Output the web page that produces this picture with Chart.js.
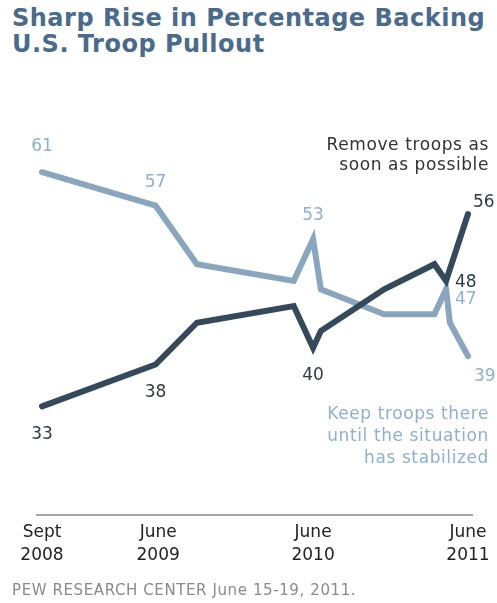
<!DOCTYPE html>
<html>
<head>
<meta charset="utf-8">
<script src="https://cdn.jsdelivr.net/npm/chart.js@4/dist/chart.umd.min.js"></script>
<style>
    body { margin: 0; width: 497px; height: 603px; background: #fff; position: relative; overflow: hidden;
           font-family: "DejaVu Sans", Verdana, sans-serif; }
    #title { position: absolute; left: 12px; top: 6px; font-size: 24px; font-weight: bold; color: #4a6b8c;
             line-height: 25.5px; letter-spacing: 0.5px; white-space: nowrap; }
    #wrap { position: absolute; left: 0; top: 0; width: 497px; height: 603px; }
    .note { position: absolute; right: 8px; text-align: right; font-size: 17px; letter-spacing: 0.6px; white-space: nowrap; }
    #removeNote { top: 134px; line-height: 20px; color: #333; }
    #keepNote { top: 402px; line-height: 22px; color: #8fb0cf; }
    #source { position: absolute; left: 12px; top: 582px; font-size: 15px; line-height: 17px; color: #8a8a8a;
              letter-spacing: 0.6px; white-space: nowrap; }
</style>
</head>
<body>
<div id="title">Sharp Rise in Percentage Backing<br>U.S. Troop Pullout</div>
<div id="wrap"><canvas id="troopChart" width="497" height="603"></canvas></div>
<div class="note" id="removeNote">Remove troops as<br>soon as possible</div>
<div class="note" id="keepNote">Keep troops there<br>until the situation<br>has stabilized</div>
<div id="source">PEW RESEARCH CENTER June 15-19, 2011.</div>

<script>
// Monate seit Sept 2008
const keepMonths = [0, 8.8, 12, 19.5, 21, 21.6, 26.5, 30.4, 31.3, 31.6, 33];
const keepValues = [61, 57, 50, 48, 53, 47, 44, 44, 47, 43, 39];
const removeMonths = [0, 8.8, 12, 19.5, 21, 21.6, 26.5, 30.4, 31.3, 33];
const removeValues = [33, 38, 43, 45, 40, 42, 47, 50, 48, 56];
const tickMonths = [0, 9, 21, 33];
const tickLabels = [['Sept', '2008'], ['June', '2009'], ['June', '2010'], ['June', '2011']];

const darkColor = '#34495c';
const lightColor = '#8aa6bf';

// Welche Punkte beschriftet werden und wohin der Text kommt
const labelSpots = {
    remove: [
        { i: 0, dx: 0, dy: 28, align: 'center' },
        { i: 1, dx: 0, dy: 28, align: 'center' },
        { i: 4, dx: 0, dy: 28, align: 'center' },
        { i: 8, dx: 9, dy: 2, align: 'left' },
        { i: 9, dx: 5, dy: -11, align: 'left' }
    ],
    keep: [
        { i: 0, dx: 0, dy: -26, align: 'center' },
        { i: 1, dx: 0, dy: -23, align: 'center' },
        { i: 4, dx: 0, dy: -24, align: 'center' },
        { i: 8, dx: 9, dy: 10, align: 'left' },
        { i: 10, dx: 6, dy: 20, align: 'left' }
    ]
};

const pointLabels = {
    id: 'pointLabels',
    afterDatasetsDraw(chart) {
        const ctx = chart.ctx;
        ctx.save();
        ctx.font = '17px "DejaVu Sans", Verdana, sans-serif';
        ctx.textBaseline = 'middle';
        chart.data.datasets.forEach((ds, d) => {
            const meta = chart.getDatasetMeta(d);
            ctx.fillStyle = ds.labelColor;
            labelSpots[ds.key].forEach(s => {
                const pt = meta.data[s.i];
                ctx.textAlign = s.align;
                ctx.fillText(String(ds.data[s.i].y), pt.x + s.dx, pt.y + s.dy);
            });
        });
        ctx.restore();
    }
};

const troopChart = new Chart(document.getElementById('troopChart'), {
    type: 'line',
    data: {
        datasets: [
            {
                key: 'remove',
                label: 'Remove troops as soon as possible',
                data: removeMonths.map((m, i) => ({ x: m, y: removeValues[i] })),
                borderColor: darkColor,
                labelColor: '#2d3b47',
                borderWidth: 6,
                pointRadius: 0,
                borderCapStyle: 'round',
                borderJoinStyle: 'miter',
                tension: 0
            },
            {
                key: 'keep',
                label: 'Keep troops there until the situation has stabilized',
                data: keepMonths.map((m, i) => ({ x: m, y: keepValues[i] })),
                borderColor: lightColor,
                labelColor: '#8fb0cf',
                borderWidth: 6,
                pointRadius: 0,
                borderCapStyle: 'round',
                borderJoinStyle: 'miter',
                tension: 0
            }
        ]
    },
    options: {
        responsive: false,
        animation: false,
        layout: { padding: { left: 37, right: 25, top: 97, bottom: 38 } },
        plugins: { legend: { display: false }, tooltip: { enabled: false } },
        scales: {
            x: {
                type: 'linear',
                min: -0.387,
                max: 33.31,
                afterBuildTicks: (scale) => { scale.ticks = tickMonths.map(v => ({ value: v })); },
                afterFit: (scale) => { scale.height = 50; },
                grid: { display: false, drawTicks: false },
                border: { display: true, color: '#a6a6a6', width: 2 },
                ticks: {
                    autoSkip: false,
                    maxRotation: 0,
                    padding: 6,
                    color: '#222',
                    font: { family: '"DejaVu Sans", Verdana, sans-serif', size: 17, lineHeight: 1.35 },
                    callback: (value) => tickLabels[tickMonths.indexOf(value)]
                }
            },
            y: {
                display: false,
                min: 20,
                max: 70
            }
        }
    },
    plugins: [pointLabels]
});
</script>
</body>
</html>
